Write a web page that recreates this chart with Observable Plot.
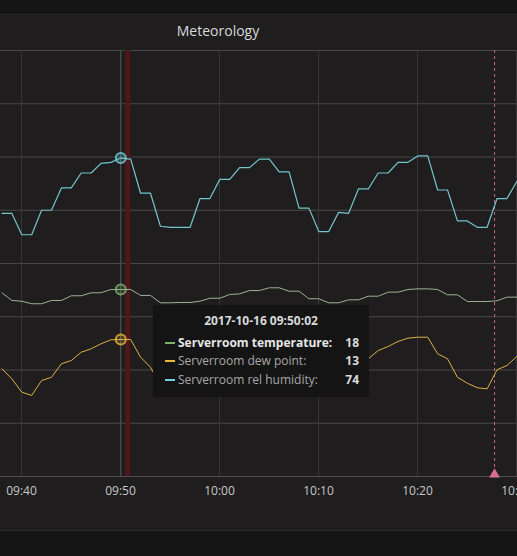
<!DOCTYPE html>
<html><head><meta charset="utf-8">
<script src="https://cdn.jsdelivr.net/npm/d3@7"></script>
<script src="https://cdn.jsdelivr.net/npm/@observablehq/plot@0.6"></script>
<style>
html,body{margin:0;padding:0;background:#151515;width:517px;height:556px;overflow:hidden;font-family:"Open Sans",sans-serif;}
#panel{position:absolute;left:-2px;top:14px;width:523px;height:517px;background:#1f1d1e;border:1px solid #2a2a2a;box-sizing:border-box;}
#title{position:absolute;left:0;top:21px;width:436px;text-align:center;color:#d8d9da;font-size:14px;font-weight:500;line-height:20px;}
#chart{position:absolute;left:0;top:40px;}
#tip{position:absolute;left:153px;top:305px;width:216px;height:92px;background:#141414;border-radius:2px;color:#d8d9da;font-size:12px;}
#tip .t{position:absolute;left:0;width:100%;top:7px;text-align:center;font-weight:700;}
#tip .row{position:absolute;left:0;width:100%;height:18px;line-height:18px;}
#tip .dash{position:absolute;left:12px;top:8px;width:10px;height:2px;}
#tip .lab{position:absolute;left:25px;color:#a8a8a8;}
#tip .val{position:absolute;right:10px;font-weight:700;color:#d8d9da;}
#tip .row.b .lab{font-weight:700;color:#e6e6e6;}
</style></head>
<body>
<div id="panel"></div>
<div id="title">Meteorology</div>
<div id="chart"></div>
<div id="tip"></div>
<script>
// series names and colours
const seriesNames = ["Serverroom temperature", "Serverroom dew point", "Serverroom rel humidity"];
const seriesColors = ["#7EB26D", "#EAB839", "#6ED0E0"];
const lineColors = ["#9db393", "#d9b445", "#72c6cc"];
// samples: one per minute, 2017-10-16 09:38:02 .. 10:30:02 (UTC)
const times = d3.utcMinute.range(new Date(Date.UTC(2017,9,16,9,38)), new Date(Date.UTC(2017,9,16,10,31))).map(d => new Date(+d + 2000));
const temperature = [17.25,16.53,16.46,16.22,16.22,16.53,16.53,16.97,16.97,17.25,
  17.25,17.56,17.56,17.56,17.0,17.0,16.31,16.31,16.34,16.34,
  16.46,16.74,16.74,17.09,17.15,17.46,17.46,17.72,17.72,17.40,
  17.40,16.69,16.69,16.31,16.31,16.59,16.59,16.93,16.93,17.31,
  17.31,17.56,17.62,17.62,17.56,17.06,17.06,16.43,16.43,16.43,
  16.50,16.84,16.84];
const dewPoint = [10.11,9.17,7.92,7.61,9.01,9.32,10.58,10.89,11.67,11.99,
  12.46,12.84,12.86,12.86,11.20,10.26,8.54,7.89,7.70,7.79,
  9.01,9.48,10.70,11.08,11.83,12.30,12.77,12.86,12.39,11.83,
  10.14,9.20,8.08,7.89,9.20,9.77,10.70,11.05,11.83,12.21,
  12.68,12.99,13.08,13.08,11.52,11.05,9.32,8.76,8.33,8.23,
  10.02,10.42,11.27];
const humidity = [68.7,68.7,66.7,66.7,69.0,69.0,71.1,71.1,72.5,72.5,
  73.4,73.5,73.9,73.8,70.6,70.6,67.5,67.4,67.4,67.4,
  70.1,70.1,71.9,71.9,73.0,73.0,73.8,73.8,72.6,72.6,
  69.2,69.2,67.0,67.0,68.8,68.7,71.0,71.0,72.5,72.5,
  73.5,73.5,74.1,74.1,70.9,70.9,68.0,68.0,67.4,67.4,
  70.1,70.1,71.7];
// axis ticks
const xTicks = [[9,40],[9,50],[10,0],[10,10],[10,20],[10,30]].map(([h,m]) => new Date(Date.UTC(2017,9,16,h,m)));
const yTicks = [0,5,10,15,20,25,30,35,40];
const humidityOffset = 44; // right-axis humidity mapped onto left axis
// hover & annotations
const hoverIndex = 12;
const alertTime = new Date(Date.UTC(2017,9,16,9,50,44));
const annotationTime = new Date(Date.UTC(2017,9,16,10,27,47));

const rows = times.map((t,i) => ({t, temp: temperature[i], dew: dewPoint[i], hum: humidity[i]}));
const hover = [rows[hoverIndex]];
const hy = d => d.hum - humidityOffset;

const chart = Plot.plot({
  width: 517, height: 490,
  marginLeft: 0, marginRight: 0, marginTop: 10, marginBottom: 54,
  style: {background: "transparent", color: "#c8c8c8", fontFamily: "Open Sans", fontSize: "12px", overflow: "visible"},
  x: {type: "utc", domain: [new Date(Date.UTC(2017,9,16,9,37,53)), new Date(Date.UTC(2017,9,16,10,30,6))]},
  y: {domain: [0, 40]},
  marks: [
    Plot.gridY(yTicks, {stroke: "#484848", strokeOpacity: 1}),
    Plot.gridX(xTicks, {stroke: "#383838", strokeOpacity: 1}),
    Plot.ruleY([0], {stroke: "#505050"}),
    Plot.axisX(xTicks, {tickSize: 0, tickPadding: 10, tickFormat: d3.utcFormat("%H:%M"), fill: "#c8c8c8", label: null, fontSize: 12}),
    Plot.axisY({ticks: [], label: null}),
    Plot.ruleX([alertTime], {stroke: "#4e181b", strokeWidth: 5, strokeOpacity: 1}),
    Plot.ruleX([hover[0].t], {stroke: "#555555", strokeWidth: 1}),
    Plot.ruleX([annotationTime], {stroke: "#c06a86", strokeDasharray: "3,3", strokeWidth: 1}),
    Plot.dot([annotationTime], {x: d => d, y: 0, symbol: "triangle", r: 4, fill: "#d8708c", dy: -2}),
    Plot.line(rows, {x: "t", y: hy, stroke: lineColors[2], strokeWidth: 1.2}),
    Plot.line(rows, {x: "t", y: "temp", stroke: lineColors[0], strokeWidth: 1}),
    Plot.line(rows, {x: "t", y: "dew", stroke: lineColors[1], strokeWidth: 1}),
    Plot.dot(hover, {x: "t", y: hy, r: 5, stroke: seriesColors[2], strokeWidth: 2, strokeOpacity: 0.8, fill: seriesColors[2], fillOpacity: 0.2}),
    Plot.dot(hover, {x: "t", y: "temp", r: 5, stroke: seriesColors[0], strokeWidth: 2, strokeOpacity: 0.8, fill: seriesColors[0], fillOpacity: 0.2}),
    Plot.dot(hover, {x: "t", y: "dew", r: 5, stroke: seriesColors[1], strokeWidth: 2, strokeOpacity: 0.8, fill: seriesColors[1], fillOpacity: 0.2})
  ]
});
document.getElementById("chart").appendChild(chart);

// tooltip
const tip = document.getElementById("tip");
const h = hover[0];
let html = `<div class="t">${d3.utcFormat("%Y-%m-%d %H:%M:%S")(h.t)}</div>`;
const vals = [h.temp, h.dew, h.hum];
seriesNames.forEach((n,i) => {
  html += `<div class="row${i===0?' b':''}" style="top:${29 + i*18.3}px"><div class="dash" style="background:${seriesColors[i]}"></div><span class="lab">${n}:</span><span class="val">${Math.round(vals[i])}</span></div>`;
});
tip.innerHTML = html;
</script>
</body></html>
